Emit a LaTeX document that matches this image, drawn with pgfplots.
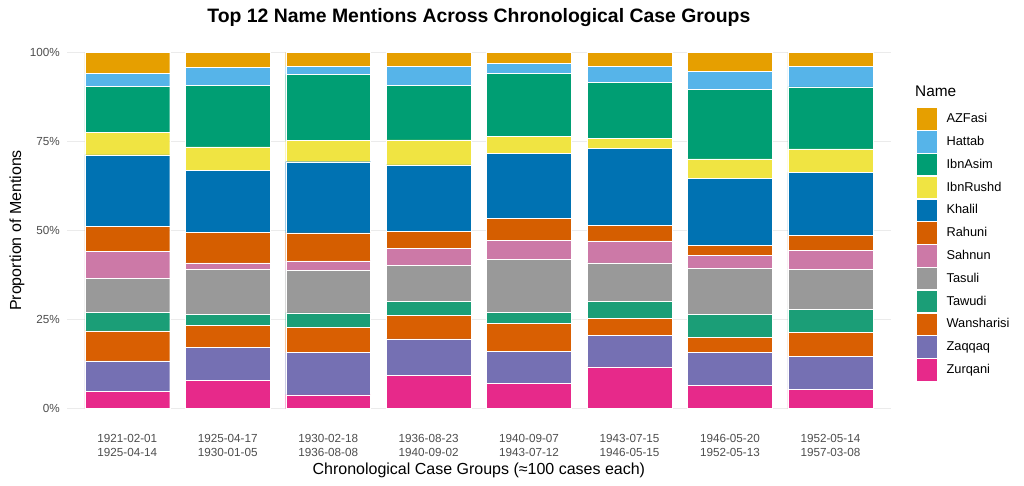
\documentclass[border=0pt]{standalone}
\usepackage{pgfplots}
\pgfplotsset{compat=1.18}
\usepackage{pgfplotstable}
\usepackage{fontspec}
\setmainfont{Liberation Sans}

\definecolor{cAZFasi}{HTML}{E69F00}
\definecolor{cHattab}{HTML}{56B4E9}
\definecolor{cIbnAsim}{HTML}{009E73}
\definecolor{cIbnRushd}{HTML}{F0E442}
\definecolor{cKhalil}{HTML}{0072B2}
\definecolor{cRahuni}{HTML}{D55E00}
\definecolor{cSahnun}{HTML}{CC79A7}
\definecolor{cTasuli}{HTML}{999999}
\definecolor{cTawudi}{HTML}{1B9E77}
\definecolor{cWansharisi}{HTML}{D95F02}
\definecolor{cZaqqaq}{HTML}{7570B3}
\definecolor{cZurqani}{HTML}{E7298A}
\definecolor{ticktext}{HTML}{4D4D4D}
\definecolor{gridc}{HTML}{EBEBEB}

% share of mentions (%) per chronological group, bottom of stack first
\pgfplotstableread{
x Zurqani Zaqqaq Wansharisi Tawudi Tasuli Sahnun Rahuni Khalil IbnRushd IbnAsim Hattab AZFasi
0 4.9  8.5  8.4 5.2  9.6 7.6 6.9 20.1 6.4 12.9 3.5 6.0
1 8.0  9.2  6.2 3.0 12.7 1.8 8.5 17.5 6.6 17.2 5.1 4.2
2 3.9 11.9  7.1 4.0 11.9 2.7 7.8 20.0 5.9 18.6 2.3 3.9
3 9.4 10.2  6.6 3.9 10.2 4.6 4.9 18.6 7.0 15.4 5.3 3.9
4 7.2  8.9  7.9 3.0 15.0 5.2 6.2 18.3 4.7 17.7 2.8 3.1
5 11.7 8.9  4.8 4.7 10.8 6.2 4.4 21.6 2.7 15.8 4.5 3.9
6 6.6  9.2  4.3 6.3 12.9 3.7 2.8 18.8 5.5 19.6 4.9 5.4
7 5.4  9.3  6.7 6.5 11.2 5.3 4.3 17.6 6.6 17.4 5.8 3.9
}\shares

\pgfplotsset{
  seg/.style={fill=#1, draw=white, line width=0.4bp,
    legend image code/.code={\fill[##1] (0bp,-11.2bp) rectangle (21bp,11.2bp);}},
}

\begin{document}
\begin{tikzpicture}
\useasboundingbox (0,0) rectangle (1024bp,486bp);
\begin{axis}[
    at={(67bp,59.5bp)}, anchor=south west,
    scale only axis,
    width=823.7bp, height=392bp,
    clip=false,
    ybar stacked,
    bar width=0.845,
    xmin=-0.6, xmax=7.6,
    ymin=-5, ymax=105,
    xtick={0,...,7},
    xticklabels={{1921-02-01\\1925-04-14},{1925-04-17\\1930-01-05},
      {1930-02-18\\1936-08-08},{1936-08-23\\1940-09-02},
      {1940-09-07\\1943-07-12},{1943-07-15\\1946-05-15},
      {1946-05-20\\1952-05-13},{1952-05-14\\1957-03-08}},
    ytick={0,25,50,75,100},
    yticklabels={0\%,25\%,50\%,75\%,100\%},
    xticklabel style={align=center, text=ticktext, inner sep=0pt,
      font=\fontsize{11.7bp}{13.7bp}\selectfont, yshift=-8bp},
    yticklabel style={text=ticktext, inner sep=0pt,
      font=\fontsize{11.7bp}{13.7bp}\selectfont, xshift=-7bp},
    axis line style={draw=none},
    major tick length=0pt,
    tick style={draw=none},
    ymajorgrids,
    major grid style={draw=gridc, line width=0.7bp},
    title={Top 12 Name Mentions Across Chronological Case Groups},
    title style={at={(axis description cs:0.5,1.0165)}, anchor=base,
      font=\fontsize{19.4bp}{21bp}\selectfont\bfseries},
    xlabel={Chronological Case Groups (≈100 cases each)},
    xlabel style={at={(axis description cs:0.5,-0.1237)}, anchor=base,
      font=\fontsize{16bp}{18bp}\selectfont},
    ylabel={Proportion of Mentions},
    ylabel style={at={(axis description cs:-0.0607,0.5)}, anchor=center,
      font=\fontsize{16bp}{18bp}\selectfont},
    reverse legend,
    legend cell align=left,
    legend style={at={(axis description cs:1.0307,0.8143)}, anchor=north west,
      draw=none, fill=none, inner sep=0pt, row sep=0pt, column sep=0pt,
      nodes={inner sep=0pt, font=\fontsize{12.8bp}{14bp}\selectfont},
      /tikz/every odd column/.append style={column sep=9bp}},
]
\addplot[seg=cZurqani]    table[x=x, y=Zurqani]    {\shares};
\addlegendentry{Zurqani}
\addplot[seg=cZaqqaq]     table[x=x, y=Zaqqaq]     {\shares};
\addlegendentry{Zaqqaq}
\addplot[seg=cWansharisi] table[x=x, y=Wansharisi] {\shares};
\addlegendentry{Wansharisi}
\addplot[seg=cTawudi]     table[x=x, y=Tawudi]     {\shares};
\addlegendentry{Tawudi}
\addplot[seg=cTasuli]     table[x=x, y=Tasuli]     {\shares};
\addlegendentry{Tasuli}
\addplot[seg=cSahnun]     table[x=x, y=Sahnun]     {\shares};
\addlegendentry{Sahnun}
\addplot[seg=cRahuni]     table[x=x, y=Rahuni]     {\shares};
\addlegendentry{Rahuni}
\addplot[seg=cKhalil]     table[x=x, y=Khalil]     {\shares};
\addlegendentry{Khalil}
\addplot[seg=cIbnRushd]   table[x=x, y=IbnRushd]   {\shares};
\addlegendentry{IbnRushd}
\addplot[seg=cIbnAsim]    table[x=x, y=IbnAsim]    {\shares};
\addlegendentry{IbnAsim}
\addplot[seg=cHattab]     table[x=x, y=Hattab]     {\shares};
\addlegendentry{Hattab}
\addplot[seg=cAZFasi]     table[x=x, y=AZFasi]     {\shares};
\addlegendentry{AZFasi}
\node[anchor=west, inner sep=0pt, font=\fontsize{15.4bp}{17bp}\selectfont]
  at (axis description cs:1.0295,0.854) {Name};
\end{axis}
\end{tikzpicture}
\end{document}
